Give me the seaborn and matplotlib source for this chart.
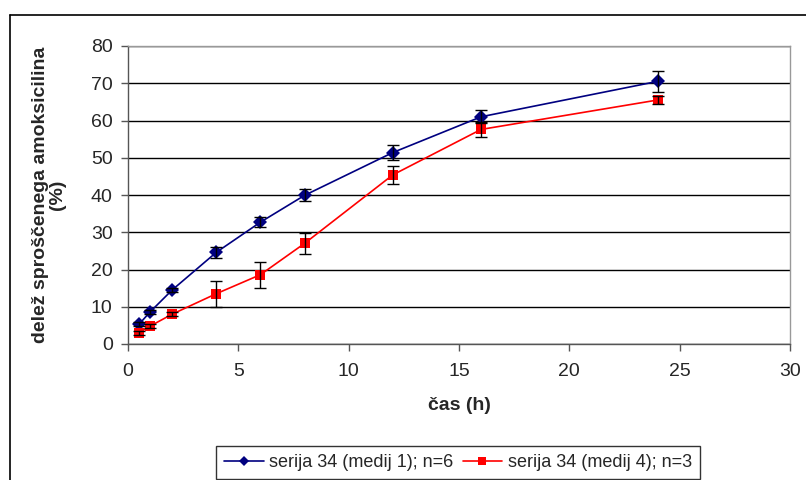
import matplotlib
matplotlib.use("Agg")
import matplotlib.pyplot as plt
import seaborn as sns
import pandas as pd
from matplotlib.lines import Line2D

time_h = [0.5, 1, 2, 4, 6, 8, 12, 16, 24]
medij1_mean = [5.3, 8.6, 14.5, 24.6, 32.7, 39.9, 51.4, 61.0, 70.5]
medij1_sd = [0.6, 0.6, 0.5, 1.5, 1.4, 1.6, 2.0, 1.8, 2.9]
medij4_mean = [3.0, 4.8, 8.0, 13.5, 18.6, 27.0, 45.4, 57.6, 65.5]
medij4_sd = [0.5, 0.5, 0.5, 3.5, 3.5, 2.8, 2.4, 2.0, 1.1]
series_names = ["serija 34 (medij 1); n=6", "serija 34 (medij 4); n=3"]
x_ticks = [0, 5, 10, 15, 20, 25, 30]
y_ticks = [0, 10, 20, 30, 40, 50, 60, 70, 80]

sns.set_theme(style="white")
plt.rcParams['font.family'] = ['Liberation Sans', 'DejaVu Sans']

df = pd.DataFrame({
    "t": time_h * 2,
    "v": medij1_mean + medij4_mean,
    "s": [series_names[0]] * len(time_h) + [series_names[1]] * len(time_h),
})

colors = {series_names[0]: "#000080", series_names[1]: "#FF0000"}
markers = {series_names[0]: "D", series_names[1]: "s"}

fig = plt.figure(figsize=(8.06, 4.8), dpi=100)
ax = fig.add_axes([128/806, 1-344/480, (790-128)/806, (344-46)/480])

sns.lineplot(data=df, x="t", y="v", hue="s", style="s", palette=colors,
             markers=markers, dashes=False, markersize=7, linewidth=1.2,
             markeredgewidth=0, ax=ax, legend=False, zorder=3)

for m, sd in [(medij1_mean, medij1_sd), (medij4_mean, medij4_sd)]:
    ax.errorbar(time_h, m, yerr=sd, fmt="none", ecolor="black",
                elinewidth=1, capsize=4, capthick=1, zorder=4)

ax.set_xlim(0, 30)
ax.set_ylim(0, 80)
ax.set_xticks(x_ticks)
ax.set_yticks(y_ticks)
ax.yaxis.grid(True, color="black", linewidth=1)
ax.xaxis.grid(False)
ax.set_axisbelow(True)
for side in ["left", "bottom"]:
    ax.spines[side].set_color("#555555")
    ax.spines[side].set_linewidth(1)
for side in ["top", "right"]:
    ax.spines[side].set_color("#999999")
    ax.spines[side].set_linewidth(1)
ax.tick_params(axis="both", direction="out", length=5, width=1,
               color="#555555", labelsize=14, left=True, bottom=True)
ax.tick_params(axis="x", pad=9)
ax.tick_params(axis="y", pad=6)
ax.set_xlabel("čas (h)", fontsize=14, fontweight="bold", labelpad=12)
ax.set_ylabel("delež sproščenega amoksicilina\n(%)", fontsize=14,
              fontweight="bold", labelpad=18, linespacing=0.95)

# outer chart frame
fig.add_artist(Line2D([10/806, 10/806], [0, 1-15/480], color="black",
                      linewidth=1.2, transform=fig.transFigure))
fig.add_artist(Line2D([10/806, 1], [1-15/480, 1-15/480], color="black",
                      linewidth=1.2, transform=fig.transFigure))

handles = [Line2D([], [], color=colors[n], marker=markers[n], markersize=5 if markers[n] == "D" else 6,
                  linewidth=1.2, markeredgewidth=0) for n in series_names]
leg = fig.legend(handles, series_names, loc="upper center", ncol=2,
                 bbox_to_anchor=(458/806, 1-446/480), frameon=True,
                 fancybox=False, edgecolor="black", fontsize=13,
                 handlelength=2.2, handletextpad=0.3, columnspacing=0.5,
                 borderpad=0.45, borderaxespad=0)
leg.get_frame().set_linewidth(1)

fig.savefig("out.png", dpi=100)
